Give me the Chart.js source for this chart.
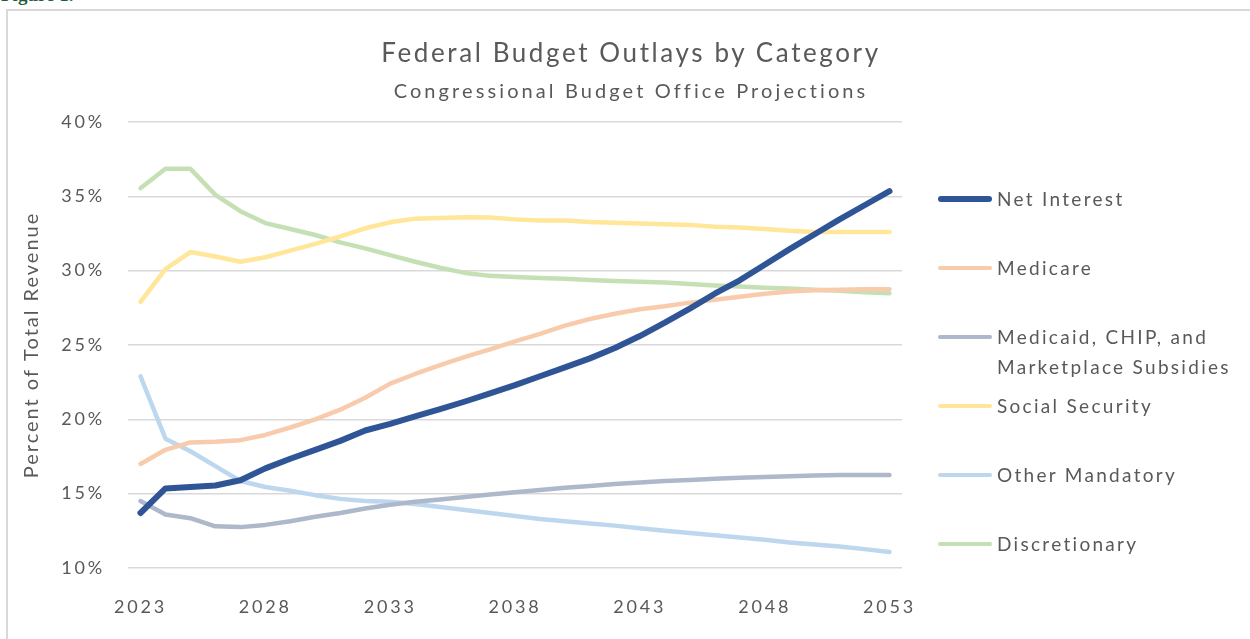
<!DOCTYPE html>
<html>
<head>
<meta charset="utf-8">
<script src="https://cdn.jsdelivr.net/npm/chart.js@4.4.1/dist/chart.umd.min.js"></script>
<style>
  html, body { margin: 0; padding: 0; background: #fff; overflow: hidden; }
  body { width: 1250px; height: 639px; position: relative; font-family: Lato, 'Open Sans', sans-serif; color: #595959; }
  .fig-label { position: absolute; left: 1px; top: -15px; font: bold 19px 'Liberation Serif', serif; line-height: 19px; color: #1f5c3b; }
  .frame { position: absolute; left: 6px; top: 9px; width: 1250px; height: 640px; border: 2px solid #d9d9d9; }
  .chart-box { position: absolute; left: 0; top: 0; width: 1250px; height: 640px; }
  .title, .subtitle { position: absolute; left: 0; width: 1262px; text-align: center; white-space: nowrap; }
  .title { top: 37px; font-size: 26px; line-height: 30px; letter-spacing: 2.6px; }
  .subtitle { top: 78px; font-size: 20px; line-height: 24px; letter-spacing: 3.1px; }
  #legend { position: absolute; left: 938px; top: 184px; }
  .item { display: flex; align-items: flex-start; height: 69px; }
  .swatch { width: 54px; border-radius: 3px; flex: none; }
  .label { margin-left: 5px; width: 252px; font-size: 19px; line-height: 30px; letter-spacing: 2.3px; }
</style>
</head>
<body>
<div class="fig-label">Figure 1.</div>
<div class="frame">
  <div class="chart-box"><canvas id="budgetChart"></canvas></div>
</div>
<div class="title">Federal Budget Outlays by Category</div>
<div class="subtitle">Congressional Budget Office Projections</div>
<div id="legend"></div>
<script>
// ── Data (percent of total revenue) ────────────────────────────────────────
const years = ['2023','2024','2025','2026','2027','2028','2029','2030','2031','2032',
               '2033','2034','2035','2036','2037','2038','2039','2040','2041','2042',
               '2043','2044','2045','2046','2047','2048','2049','2050','2051','2052','2053'];

const netInterest = [13.7, 15.35, 15.45, 15.55, 15.9, 16.7, 17.35, 17.95, 18.55, 19.25,
                     19.7, 20.2, 20.68, 21.2, 21.75, 22.3, 22.9, 23.5, 24.1, 24.8,
                     25.6, 26.5, 27.45, 28.45, 29.35, 30.4, 31.45, 32.45, 33.45, 34.4, 35.35];
const medicare    = [17.0, 17.95, 18.45, 18.5, 18.6, 18.95, 19.45, 20.0, 20.65, 21.45,
                     22.4, 23.05, 23.65, 24.2, 24.7, 25.25, 25.75, 26.3, 26.75, 27.1,
                     27.4, 27.6, 27.85, 28.05, 28.25, 28.45, 28.6, 28.68, 28.72, 28.75, 28.75];
const medicaid    = [14.5, 13.6, 13.35, 12.8, 12.75, 12.9, 13.15, 13.45, 13.7, 14.0,
                     14.25, 14.45, 14.6, 14.78, 14.95, 15.1, 15.25, 15.4, 15.52, 15.65,
                     15.75, 15.85, 15.92, 16.0, 16.07, 16.12, 16.17, 16.22, 16.25, 16.25, 16.25];
const socialSec   = [27.9, 30.1, 31.25, 30.95, 30.6, 30.9, 31.35, 31.8, 32.3, 32.85,
                     33.25, 33.5, 33.55, 33.6, 33.58, 33.45, 33.37, 33.37, 33.28, 33.22,
                     33.17, 33.12, 33.08, 32.95, 32.9, 32.8, 32.68, 32.6, 32.6, 32.6, 32.6];
const otherMand   = [22.9, 18.7, 17.85, 16.85, 15.85, 15.45, 15.2, 14.9, 14.65, 14.5,
                     14.45, 14.3, 14.1, 13.9, 13.7, 13.5, 13.3, 13.15, 13.0, 12.85,
                     12.67, 12.5, 12.35, 12.2, 12.05, 11.9, 11.72, 11.58, 11.45, 11.27, 11.08];
const discretion  = [35.55, 36.85, 36.85, 35.1, 34.0, 33.2, 32.8, 32.4, 31.9, 31.5,
                     31.05, 30.6, 30.2, 29.85, 29.65, 29.58, 29.5, 29.45, 29.38, 29.3,
                     29.25, 29.2, 29.1, 29.0, 28.93, 28.85, 28.8, 28.72, 28.65, 28.55, 28.48];

const yTicks = [10, 15, 20, 25, 30, 35, 40];

const series = [
    { name: 'Net Interest',                              data: netInterest, color: '#2f5597', width: 6 },
    { name: 'Medicare',                                  data: medicare,    color: '#f8cbad', width: 4.5 },
    { name: 'Medicaid, CHIP, and Marketplace Subsidies', data: medicaid,    color: '#adb9ca', width: 4.5 },
    { name: 'Social Security',                           data: socialSec,   color: '#ffe699', width: 4.5 },
    { name: 'Other Mandatory',                           data: otherMand,   color: '#bdd7ee', width: 4.5 },
    { name: 'Discretionary',                             data: discretion,  color: '#c5e0b4', width: 4.5 }
];

const TEXT = '#595959';
const GRID = '#d9d9d9';

// ── Letter spacing: axis title gets a little, tick labels (drawn after datasets) more
const spacingPlugin = {
    id: 'spacing',
    beforeDraw: c => { c.ctx.letterSpacing = '2px'; },
    afterDatasetsDraw: c => { c.ctx.letterSpacing = '2.8px'; },
    afterDraw: c => { c.ctx.letterSpacing = '0px'; }
};

// ── Chart ──────────────────────────────────────────────────────────────────
const chart = new Chart(document.getElementById('budgetChart'), {
    type: 'line',
    data: {
        labels: years,
        datasets: series.map(s => ({
            label: s.name,
            data: s.data,
            borderColor: s.color,
            backgroundColor: s.color,
            borderWidth: s.width,
            borderCapStyle: 'round',
            borderJoinStyle: 'round',
            pointRadius: 0,
            tension: 0
        }))
    },
    options: {
        responsive: true,
        maintainAspectRatio: false,
        animation: false,
        layout: { padding: { top: 111, right: 356, bottom: 33, left: 0 } },
        plugins: {
            legend: { display: false },
            tooltip: { enabled: false },
            title: { display: false }
        },
        scales: {
            x: {
                offset: true,
                grid: { display: false },
                border: { display: false },
                afterFit: s => { s.height = 50; },
                ticks: {
                    autoSkip: false,
                    maxRotation: 0,
                    padding: 20,
                    z: 1,
                    color: TEXT,
                    font: { family: 'Lato', size: 18 },
                    callback: function (v, i) { return i % 5 === 0 ? this.getLabelForValue(v) : ''; }
                }
            },
            y: {
                min: 10,
                max: 40,
                afterFit: s => { s.width = 120; },
                afterBuildTicks: s => { s.ticks = yTicks.map(v => ({ value: v })); },
                grid: { color: GRID, lineWidth: 1.5, drawTicks: false },
                border: { display: false },
                ticks: {
                    padding: 23,
                    z: 1,
                    color: TEXT,
                    font: { family: 'Lato', size: 18 },
                    callback: v => v + '%'
                },
                title: {
                    display: true,
                    text: 'Percent of Total Revenue',
                    color: TEXT,
                    font: { family: 'Lato', size: 20 },
                    padding: { top: 12, bottom: 0 }
                }
            }
        }
    },
    plugins: [spacingPlugin]
});

// ── Legend (HTML, built from the series list) ──────────────────────────────
const legendEl = document.getElementById('legend');
series.forEach(s => {
    const item = document.createElement('div');
    item.className = 'item';
    const sw = document.createElement('span');
    sw.className = 'swatch';
    sw.style.background = s.color;
    sw.style.height = s.width + 'px';
    sw.style.marginTop = (15 - s.width / 2) + 'px';
    const lbl = document.createElement('span');
    lbl.className = 'label';
    lbl.textContent = s.name;
    item.appendChild(sw);
    item.appendChild(lbl);
    legendEl.appendChild(item);
});
</script>
</body>
</html>
